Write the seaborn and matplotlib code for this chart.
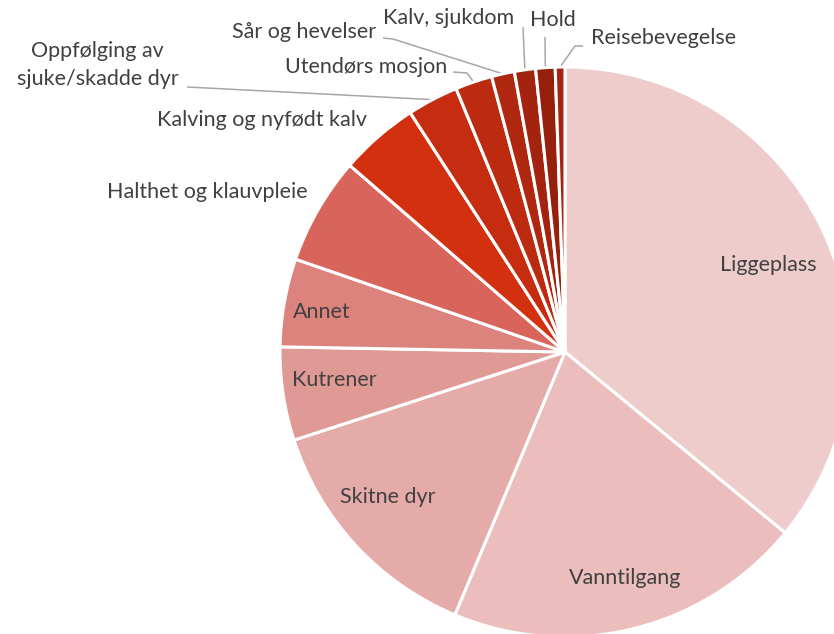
import numpy as np
import matplotlib
matplotlib.use("Agg")
import matplotlib.pyplot as plt
import seaborn as sns

# ---- data ----
categories = ["Liggeplass", "Vanntilgang", "Skitne dyr", "Kutrener", "Annet",
              "Halthet og klauvpleie", "Kalving og nyfødt kalv",
              "Oppfølging av\nsjuke/skadde dyr", "Utendørs mosjon",
              "Sår og hevelser", "Kalv, sjukdom", "Hold", "Reisebevegelse"]
values = [36.0, 20.4, 13.7, 5.3, 5.0, 6.1, 4.5, 2.9, 2.1, 1.3, 1.2, 1.1, 0.55]
colors = ["#EFCCCC", "#EBBDBD", "#E5ABA9", "#E09A96", "#DD837E", "#D9645B",
          "#D3300F", "#C62D10", "#BC2A10", "#B0270F", "#A3230E", "#97200D", "#A82410"]

# ---- layout (pixels in 834x634 figure) ----
W, H = 834, 634
CX, CY, R = 565, 352, 285

def p2d(px, py):
    return (px - CX) / R, (CY - py) / R

# label centres for inside labels
inside_pos = {0: (768, 265), 1: (625, 578), 2: (388, 497), 3: (334, 380),
              4: (322, 312), 5: (207, 192), 6: (262, 120)}
# outside labels: text centre, leader start, knee
outside = {
    7: ((97.5, 65), (187, 87), None),
    8: ((366, 67), (453, 72), (467, 73)),
    9: ((304, 32), (383, 38), (393, 39)),
    10: ((449, 18), (523, 27), None),
    11: ((553, 20), (545, 37), None),
    12: ((664, 38), (583, 46), (575, 46)),
}

sns.set_theme(style="white")
plt.rcParams["font.family"] = ["Lato", "DejaVu Sans"]

fig = plt.figure(figsize=(W / 100, H / 100), dpi=100)
ax = fig.add_axes([0, 0, 1, 1])
wedges, _ = ax.pie(values, colors=colors, startangle=90, counterclock=False,
                   radius=1, center=(0, 0),
                   wedgeprops=dict(edgecolor="white", linewidth=2.2))
ax.set_aspect("equal")
x0, y1 = p2d(0, 0)
x1, y0 = p2d(W, H)
ax.set_xlim(x0, x1)
ax.set_ylim(y0, y1)
ax.axis("off")

tc = "#404040"
fs = 15.5
for i, (px, py) in inside_pos.items():
    x, y = p2d(px, py)
    ax.text(x, y, categories[i], ha="center", va="center", fontsize=fs, color=tc)

for i, (tpos, start, knee) in outside.items():
    x, y = p2d(*tpos)
    ax.text(x, y, categories[i], ha="center", va="center", fontsize=fs, color=tc,
            linespacing=1.45)
    w = wedges[i]
    ang = np.deg2rad((w.theta1 + w.theta2) / 2)
    ex, ey = np.cos(ang) * 1.0, np.sin(ang) * 1.0
    pts = [p2d(*start)]
    if knee is not None:
        pts.append(p2d(*knee))
    pts.append((ex, ey))
    xs, ys = zip(*pts)
    ax.plot(xs, ys, color="#A6A6A6", lw=1.1, solid_capstyle="butt", zorder=0.5)

fig.savefig("out.png", dpi=100)
